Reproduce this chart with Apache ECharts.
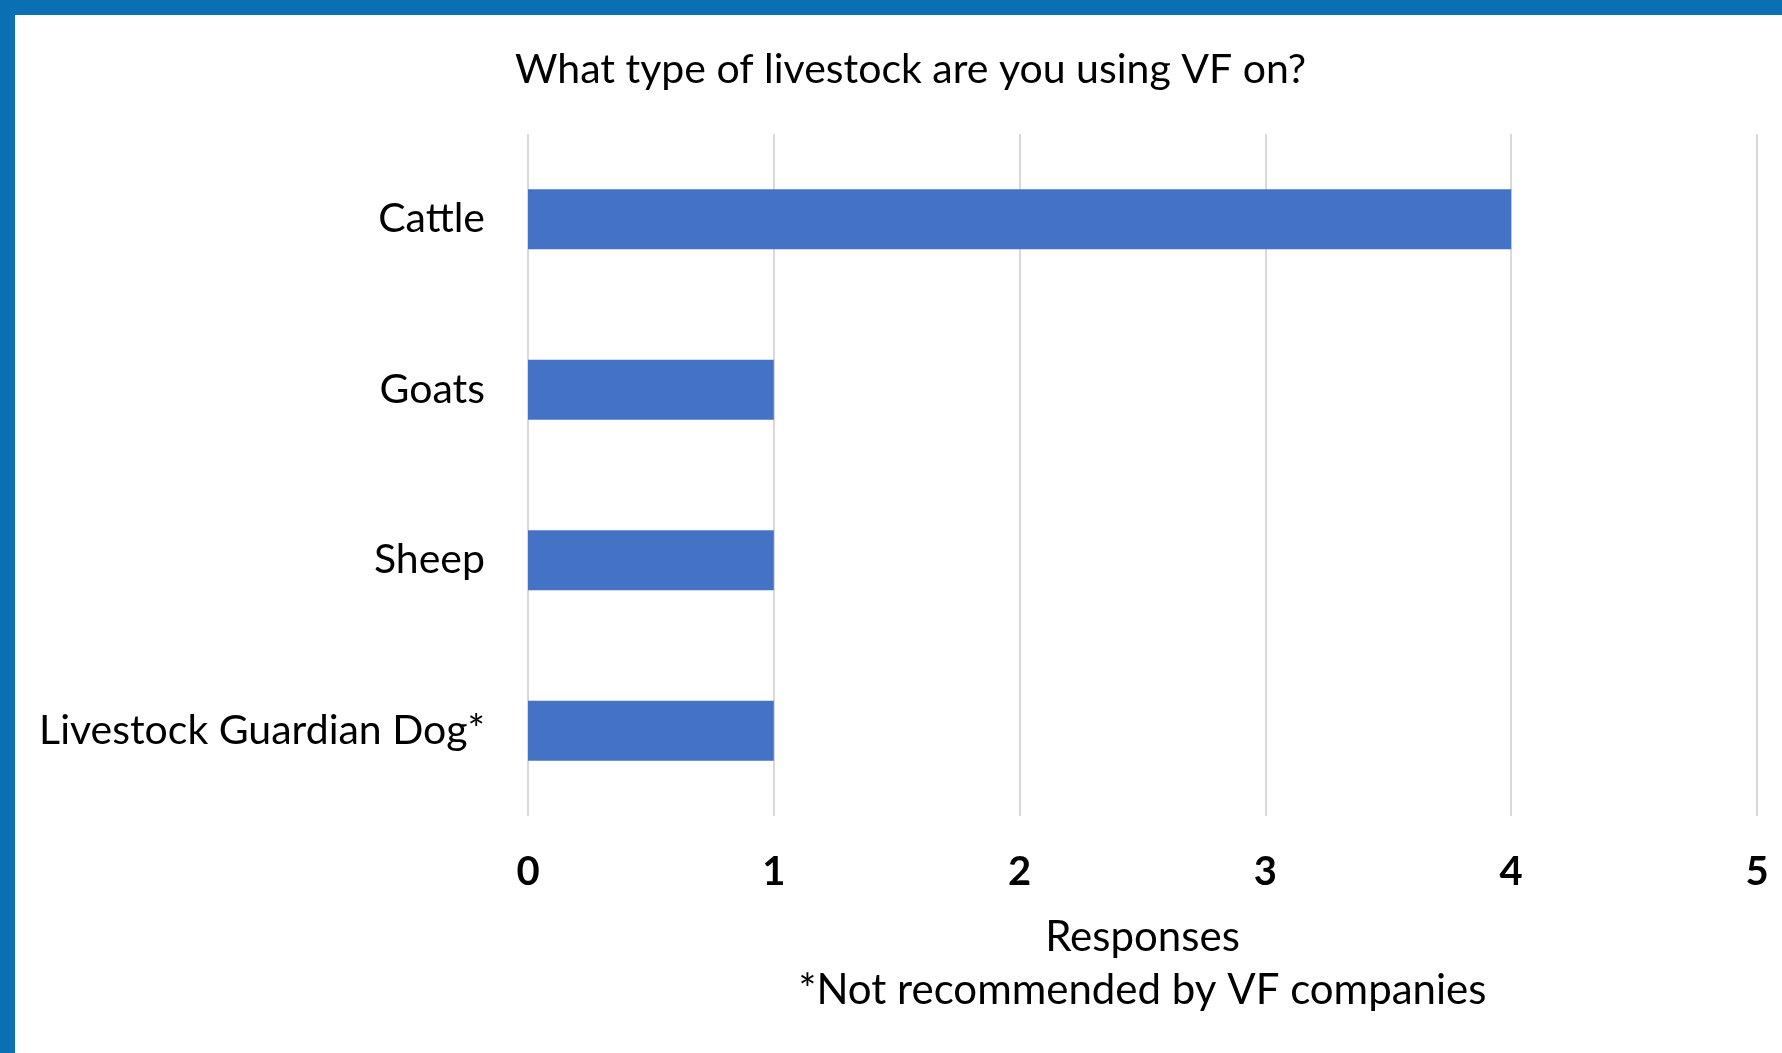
<!DOCTYPE html>
<html>
<head>
<meta charset="utf-8">
<script src="https://cdn.jsdelivr.net/npm/echarts@6/dist/echarts.min.js"></script>
<style>
  html, body { margin: 0; padding: 0; width: 1782px; height: 1053px; overflow: hidden; background: #0B6FB3; }
  #chart { position: absolute; left: 15px; top: 15px; width: 1767px; height: 1038px; background: #ffffff; }
</style>
</head>
<body>
<div id="chart"></div>
<script>
// Survey responses per livestock type
const chartTitle = 'What type of livestock are you using VF on?';
const categories = ['Cattle', 'Goats', 'Sheep', 'Livestock Guardian Dog*'];
const responses = [4, 1, 1, 1];
const axisTitle = 'Responses';
const footnote = '*Not recommended by VF companies';
const xTicks = { min: 0, max: 5, interval: 1 };

const FONT = 'Lato';
const chart = echarts.init(document.getElementById('chart'), null, { renderer: 'canvas' });

chart.setOption({
  backgroundColor: '#ffffff',
  animation: false,
  title: {
    text: chartTitle,
    left: 500,
    top: 34,
    padding: 0,
    textStyle: { fontFamily: FONT, fontSize: 41, fontWeight: 'normal', color: '#000000' }
  },
  grid: { left: 513, right: 25, top: 119, bottom: 237, containLabel: false },
  xAxis: {
    type: 'value',
    min: xTicks.min,
    max: xTicks.max,
    interval: xTicks.interval,
    axisLine: { show: false },
    axisTick: { show: false },
    splitLine: { show: true, lineStyle: { color: '#d9d9d9', width: 2 } },
    axisLabel: {
      margin: 36,
      fontFamily: FONT, fontSize: 40, fontWeight: 'bold', color: '#000000'
    },
    name: axisTitle + '\n' + footnote,
    nameLocation: 'middle',
    nameGap: 95,
    nameTextStyle: { fontFamily: FONT, fontSize: 42, color: '#000000', lineHeight: 53 }
  },
  yAxis: {
    type: 'category',
    data: categories,
    inverse: true,
    axisLine: { show: false },
    axisTick: { show: false },
    splitLine: { show: false },
    axisLabel: { margin: 43, fontFamily: FONT, fontSize: 41, color: '#000000' }
  },
  series: [{
    type: 'bar',
    data: responses,
    barWidth: 60,
    itemStyle: { color: '#4472C4' }
  }]
});
</script>
</body>
</html>
